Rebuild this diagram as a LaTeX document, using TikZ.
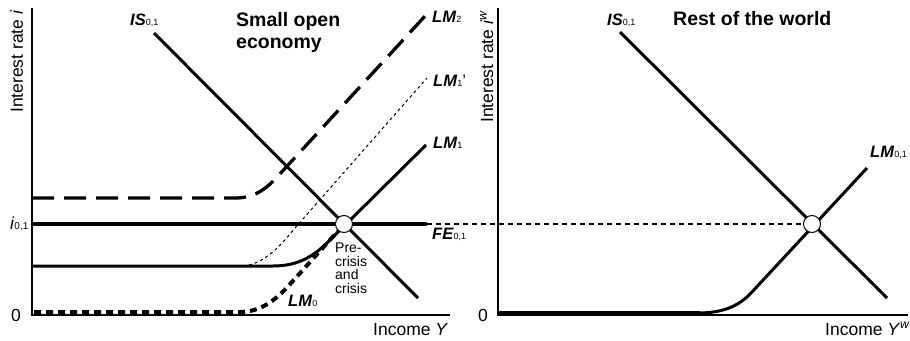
\documentclass[tikz,border=0pt]{standalone}
\usepackage{fontspec}
\setmainfont{Liberation Sans}
\begin{document}
\begin{tikzpicture}[x=1pt,y=-1pt,
  axis/.style={line width=2.2pt},
  curve/.style={line width=3pt},
  axlab/.style={font=\fontsize{17.5}{20}\selectfont, inner sep=0},
  ttl/.style={font=\fontsize{19.5}{22}\selectfont\bfseries, inner sep=0},
  clab/.style={font=\fontsize{16.5}{19}\selectfont, inner sep=0, anchor=base west},
  eq/.style={circle, draw, fill=white, line width=1pt, minimum size=17pt, inner sep=0}
]
\newcommand\clabel[2]{\textbf{\textit{#1}}{\fontsize{9}{10}\selectfont #2}}
\useasboundingbox (0,0) rectangle (910,340);
% ---------- left panel ----------
\draw[axis] (32,8) -- (32,315) -- (450,315);
\node[axlab, rotate=90, anchor=base west] (ylabA) at (23,113) {Interest rate \textit{i}};
\node[axlab, anchor=base west] (xlabA) at (373,335) {Income \textit{Y}};
\node[axlab, anchor=base] (zeroA) at (16,321) {0};
\node[axlab, anchor=base west] (i01) at (10,229) {\textit{i}{\fontsize{10}{11}\selectfont 0,1}};
\node[ttl, anchor=base west] (ttlA1) at (236,27) {Small open};
\node[ttl, anchor=base west] (ttlA2) at (236,48) {economy};
% LM2 long dashed
\draw[curve, line width=3.3pt, dash pattern=on 22pt off 10pt]
  (32,198) -- (235,198) .. controls (255,198) and (266,189) .. (278,176) -- (426,15);
% LM1' dotted thin
\draw[line width=1pt, dash pattern=on 3pt off 3pt]
  (243,266) .. controls (265,264) and (281,245) .. (295,228) -- (427,78);
% LM1 solid
\draw[curve] (32,266) -- (273,266) .. controls (300,266) and (315,255) .. (330,240) -- (426,145);
% LM0 thick short dashes
\draw[line width=4pt, dash pattern=on 7pt off 5pt]
  (34,312) -- (240,312) .. controls (262,312) and (278,298) .. (292,282) -- (338,231);
% FE horizontal
\draw[curve, line width=3.5pt] (32,224) -- (427,224);
% IS left
\draw[curve] (154,33) -- (418,298);
\node[eq] (eqA) at (344,224) {};
\node[font=\fontsize{14}{13.5}\selectfont, align=left, anchor=north west, inner sep=0] (pre) at (335,243) {Pre-\\crisis\\and\\crisis};
\node[clab] (lIS) at (130,25) {\clabel{IS}{0,1}};
\node[clab] (lLM2) at (432,23) {\clabel{LM}{2}};
\node[clab] (lLM1p) at (433,86) {\clabel{LM}{1}'};
\node[clab] (lLM1) at (433,148) {\clabel{LM}{1}};
\node[clab] (lFE) at (432,239) {\clabel{FE}{0,1}};
\node[clab] (lLM0) at (288,306) {\clabel{LM}{0}};
% ---------- right panel ----------
\draw[axis] (498,8) -- (498,315) -- (908,315);
\node[axlab, rotate=90, anchor=base west] (ylabB) at (493,123) {Interest rate \textit{i}\textsuperscript{\textit{w}}};
\node[axlab, anchor=base west] (xlabB) at (825,335) {Income \textit{Y}\textsuperscript{\textit{w}}};
\node[axlab, anchor=base] (zeroB) at (483,321) {0};
\node[ttl, anchor=base west] (ttlB) at (673,25) {Rest of the world};
\draw[line width=4pt] (498,313) -- (700,313);
\draw[curve] (698,313) .. controls (725,313) and (740,305) .. (752,292) -- (867,168);
\draw[curve] (620,32) -- (887,298);
\node[eq] (eqB) at (812,224) {};
\draw[line width=1.4pt, dash pattern=on 5pt off 4pt] (427,224) -- (eqB.west);
\node[clab] (rIS) at (607,25) {\clabel{IS}{0,1}};
\node[clab] (rLM) at (870,157) {\clabel{LM}{0,1}};
\end{tikzpicture}
\end{document}
